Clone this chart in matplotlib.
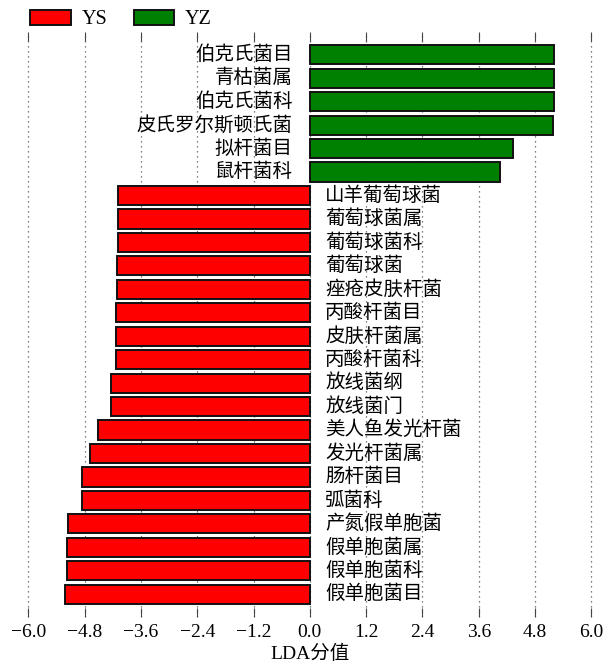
import matplotlib
matplotlib.use('Agg')
import matplotlib.pyplot as plt
import numpy as np
from matplotlib.patches import Patch

plt.rcParams['font.family'] = ['Liberation Serif', 'Noto Sans CJK SC']
plt.rcParams['axes.unicode_minus'] = True

# LDA 分值，从上到下排列
taxa_yz = ['伯克氏菌目', '青枯菌属', '伯克氏菌科', '皮氏罗尔斯顿氏菌', '拟杆菌目', '鼠杆菌科']
lda_yz = [5.21, 5.21, 5.21, 5.19, 4.33, 4.06]

taxa_ys = ['山羊葡萄球菌', '葡萄球菌属', '葡萄球菌科', '葡萄球菌', '痤疮皮肤杆菌',
           '丙酸杆菌目', '皮肤杆菌属', '丙酸杆菌科', '放线菌纲', '放线菌门',
           '美人鱼发光杆菌', '发光杆菌属', '肠杆菌目', '弧菌科', '产氮假单胞菌',
           '假单胞菌属', '假单胞菌科', '假单胞菌目']
lda_ys = [4.08, 4.09, 4.09, 4.10, 4.12, 4.13, 4.13, 4.13, 4.23, 4.23,
          4.52, 4.68, 4.85, 4.85, 5.15, 5.18, 5.18, 5.21]

names = taxa_yz + taxa_ys
scores = np.array(lda_yz + [-v for v in lda_ys])
colors = ['green'] * len(taxa_yz) + ['red'] * len(taxa_ys)
n = len(names)
ypos = np.arange(n)[::-1]

fig = plt.figure(figsize=(6.06, 6.64), dpi=100)
ax = fig.add_axes([0.0429, 0.0708, 0.9368, 0.881])

ax.barh(ypos, scores, height=0.82, color=colors, edgecolor='#111111', linewidth=1.4, zorder=2)

for y, s, name in zip(ypos, scores, names):
    if s > 0:
        ax.annotate(name, (0, y), xytext=(-12.5, 0), textcoords='offset points',
                    ha='right', va='center', fontsize=14)
    else:
        ax.annotate(name, (0, y), xytext=(11, 0), textcoords='offset points',
                    ha='left', va='center', fontsize=14)

ticks = np.round(np.arange(-6.0, 6.01, 1.2), 1)
ax.set_xticks(ticks)
ax.set_xticklabels([f'{t:.1f}'.replace('-', '\u2212') for t in ticks], fontsize=14)
ax.set_xlim(-6.05, 6.05)
ax.set_ylim(-0.97, n - 0.03)
ax.set_yticks([])
ax.tick_params(axis='x', top=True, bottom=True, direction='in', length=6.5,
               width=0.8, color='#444444', pad=5)
ax.xaxis.grid(True, linestyle=(0, (1, 3)), color='#555555', linewidth=0.9, zorder=0)
ax.set_axisbelow(True)
for sp in ax.spines.values():
    sp.set_visible(False)

ax.set_xlabel('LDA分值', fontsize=14, labelpad=3)

handles = [Patch(facecolor='red', edgecolor='#111111', linewidth=1.4, label='YS'),
           Patch(facecolor='green', edgecolor='#111111', linewidth=1.4, label='YZ')]
fig.legend(handles=handles, loc='upper left', bbox_to_anchor=(0.02, 1.012), ncol=2,
           frameon=False, fontsize=14.5, handlelength=2.0, handleheight=0.72,
           columnspacing=1.3, handletextpad=0.55, borderpad=0.4)

fig.savefig('out.png', dpi=100)
